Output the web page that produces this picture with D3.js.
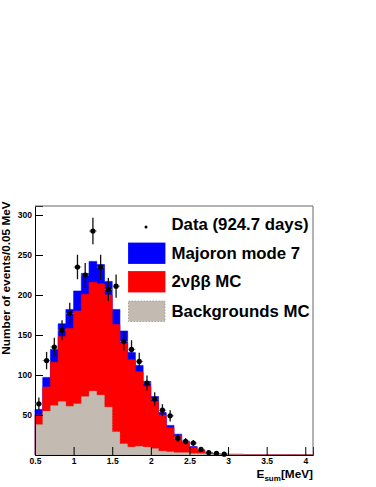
<!DOCTYPE html>
<html>
<head>
<meta charset="utf-8">
<script src="https://cdn.jsdelivr.net/npm/d3@7"></script>
<style>
  body { margin: 0; background: #fff; }
  svg text { font-family: "Liberation Sans", Arial, sans-serif; font-weight: bold; }
</style>
</head>
<body>
<svg id="chart" width="376" height="487"></svg>
<script>
// bin centres, 0.1 MeV wide, from 0.5 to 4.1 MeV
const binCentres = [0.55, 0.65, 0.75, 0.85, 0.95, 1.05, 1.15, 1.25, 1.35, 1.45,
                    1.55, 1.65, 1.75, 1.85, 1.95, 2.05, 2.15, 2.25, 2.35, 2.45,
                    2.55, 2.65, 2.75, 2.85, 2.95, 3.05, 3.15, 3.25, 3.35, 3.45,
                    3.55, 3.65, 3.75, 3.85, 3.95, 4.05];

const backgrounds = [38, 55, 62, 67, 61, 64, 73, 80, 75, 60,
                     29, 14, 10, 11, 10, 8, 5, 4, 3, 3,
                     2, 2, 1.5, 1, 0.7, 0.5, 0.5, 0.3, 0.3, 0.3,
                     0.3, 0.3, 0.3, 0.3, 0.3, 0.3];
const twoNu = [12, 30, 54, 81, 97, 116, 128, 136, 139, 140,
               134, 126, 109, 93, 76, 59, 45, 30, 21, 13,
               7.5, 3.5, 1, 0.2, 0.1, 0.1, 0.1, 0.1, 0.1, 0.1,
               0.1, 0.1, 0.1, 0.1, 0.1, 0.1];
const majoron = [7, 12, 16, 16, 24, 25, 26, 26, 24, 17,
                 19, 15, 9, 8, 6, 6, 3, 3, 2, 1.5,
                 1, 0.5, 0.5, 0.3, 0.2, 0.4, 0.4, 0.2, 0.2, 0.2,
                 0.2, 0.2, 0.2, 0.2, 0.2, 0.2];

// measured data
const dataX = [0.55, 0.65, 0.75, 0.85, 0.95, 1.05, 1.15, 1.25, 1.35, 1.45,
               1.55, 1.65, 1.75, 1.85, 1.95, 2.05, 2.15, 2.25, 2.35, 2.45,
               2.55, 2.65, 2.75, 2.85, 2.95];
const dataY = [64, 118, 135, 156, 177, 235, 225, 280, 235, 207,
               211, 142, 132, 117, 90, 70, 56, 49, 21, 17,
               15, 7, 3, 2, 1];
const dataErr = [8, 10.9, 11.6, 12.5, 13.3, 15.3, 15, 16.7, 15.3, 14.4,
                 14.5, 11.9, 11.5, 10.8, 9.5, 8.4, 7.5, 7, 4.6, 4.1,
                 3.9, 2.6, 1.7, 1.4, 1];

const xTicks = [0.5, 1, 1.5, 2, 2.5, 3, 3.5, 4];
const yTicks = [50, 100, 150, 200, 250, 300];

const legendLabels = ["Data (924.7 days)", "Majoron mode 7", "2\u03bd\u03b2\u03b2 MC", "Backgrounds MC"];

const binW = 0.1;
const colors = { bkg: "#c3bbb1", twoNu: "#ff0000", majoron: "#0000ff" };

const svg = d3.select("#chart");
const x = d3.scaleLinear().domain([0.5, 4.1]).range([35, 313]);
const y = d3.scaleLinear().domain([0, 311.25]).range([455, 206]);

// stacked histogram
let rows = binCentres.map((c, i) => ({ c: c, bkg: backgrounds[i], twoNu: twoNu[i], majoron: majoron[i] }));
let stack = d3.stack().keys(["bkg", "twoNu", "majoron"]);
let layers = stack(rows);

let area = d3.area()
    .curve(d3.curveStepAfter)
    .x((d) => { return x(d.edge); })
    .y0(y(0))
    .y1((d) => { return y(d.top); });

function stepPoints (layer) {
    let pts = layer.map((d) => { return { edge: d.data.c - binW / 2, top: d[1] }; });
    let last = layer[layer.length - 1];
    pts.push({ edge: last.data.c + binW / 2, top: last[1] });
    return pts;
}

let hist = svg.append("g").attr("class", "hist");
// draw from top of stack down so lower layers cover the upper ones
hist.selectAll("path")
    .data(layers.slice().reverse())
    .enter()
    .append("path")
    .attr("d", (d) => { return area(stepPoints(d)); })
    .attr("fill", (d) => { return colors[d.key]; })
    .attr("stroke", (d) => { return d.key == "bkg" ? "#9e968c" : d3.color(colors[d.key]).brighter(0.6); })
    .attr("stroke-width", 0.6)
    .attr("stroke-dasharray", (d) => { return d.key == "bkg" ? "1.5,1.5" : null; });

// axes, ticks pointing inside like ROOT
let gx = svg.append("g").attr("transform", "translate(0,455)");
gx.call(d3.axisBottom(x).tickValues(d3.range(6, 41).map((v) => v / 10)).tickSize(-4).tickFormat(""));
gx.call(d3.axisBottom(x).tickValues(xTicks).tickSize(-8).tickPadding(3).tickFormat((d) => d));
gx.selectAll(".domain").attr("stroke", "#000");
gx.selectAll("text").attr("font-size", 8.5).attr("fill", "#000");

let gy = svg.append("g").attr("transform", "translate(35,0)");
gy.call(d3.axisLeft(y).tickValues(d3.range(10, 311, 10)).tickSize(-4).tickFormat(""));
gy.call(d3.axisLeft(y).tickValues(yTicks).tickSize(-8).tickPadding(3).tickFormat((d) => d));
gy.selectAll("text").attr("font-size", 8.5).attr("fill", "#000");
gy.selectAll(".domain").attr("stroke", "#000");

// frame top and right
svg.append("path")
    .attr("d", "M" + x(0.5) + "," + y(311.25) + "H" + x(4.1) + "V" + y(0))
    .attr("fill", "none")
    .attr("stroke", "#666")
    .attr("stroke-width", 1);

// data with error bars
let pts = svg.append("g").attr("class", "data");
let dat = dataX.map((v, i) => ({ x: v, y: dataY[i], e: dataErr[i] }));
pts.selectAll("line.hx").data(dat).enter().append("line")
    .attr("class", "hx")
    .attr("x1", (d) => { return x(d.x - binW / 2); })
    .attr("x2", (d) => { return x(d.x + binW / 2); })
    .attr("y1", (d) => { return y(d.y); })
    .attr("y2", (d) => { return y(d.y); })
    .attr("stroke", "#777").attr("stroke-width", 1);
pts.selectAll("line.vy").data(dat).enter().append("line")
    .attr("class", "vy")
    .attr("x1", (d) => { return x(d.x); })
    .attr("x2", (d) => { return x(d.x); })
    .attr("y1", (d) => { return y(d.y - d.e); })
    .attr("y2", (d) => { return y(d.y + d.e); })
    .attr("stroke", "#111").attr("stroke-width", 1.3);
pts.selectAll("circle").data(dat).enter().append("circle")
    .attr("cx", (d) => { return x(d.x); })
    .attr("cy", (d) => { return y(d.y); })
    .attr("r", 2.6)
    .attr("fill", "#000");

// legend
let leg = svg.append("g").attr("class", "legend");
let rowY = [230, 258.5, 287, 316.5];
leg.append("circle").attr("cx", 146).attr("cy", rowY[0] - 3).attr("r", 1.5).attr("fill", "#000");
let swatch = [null, colors.majoron, colors.twoNu, colors.bkg];
for (let i = 1; i < 4; i++) {
    leg.append("rect")
        .attr("x", 128.5).attr("y", rowY[i] - 15.5)
        .attr("width", 36.5).attr("height", 20.5)
        .attr("fill", swatch[i])
        .attr("stroke", i == 3 ? "#9e968c" : d3.color(swatch[i]).brighter(0.6))
        .attr("stroke-width", 0.8)
        .attr("stroke-dasharray", i == 3 ? "1.5,1.5" : null);
}
leg.selectAll("text").data(legendLabels).enter().append("text")
    .attr("x", 171.5)
    .attr("y", (d, i) => { return rowY[i]; })
    .attr("font-size", 16.8)
    .attr("fill", "#000")
    .text((d) => d);

// axis titles
svg.append("text")
    .attr("transform", "translate(10,278) rotate(-90)")
    .attr("text-anchor", "middle")
    .attr("font-size", 11.8)
    .text("Number of events/0.05 MeV");

let xt = svg.append("text")
    .attr("x", 313).attr("y", 478)
    .attr("text-anchor", "end")
    .attr("font-size", 11.8);
xt.append("tspan").text("E");
xt.append("tspan").attr("font-size", 8).attr("dy", 2.5).text("sum");
xt.append("tspan").attr("dy", -2.5).text("[MeV]");
</script>
</body>
</html>
